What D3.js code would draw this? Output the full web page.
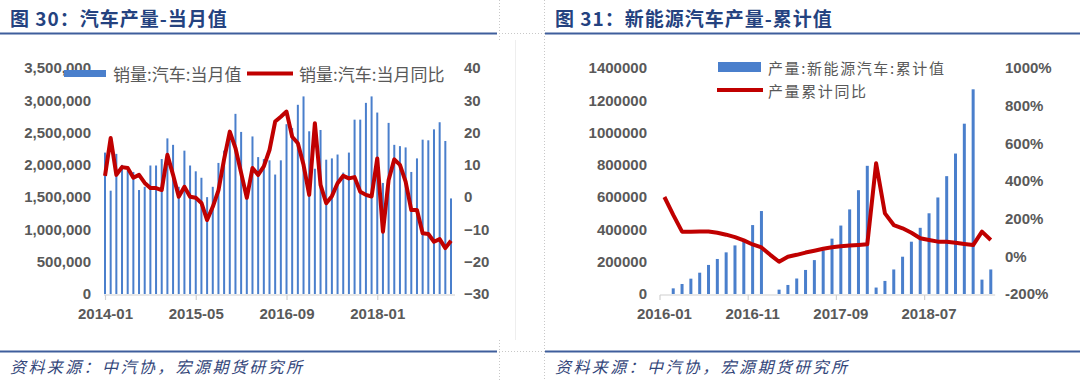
<!DOCTYPE html>
<html><head><meta charset="utf-8">
<script src="https://cdn.jsdelivr.net/npm/d3@7/dist/d3.min.js"></script>
<style>body{margin:0;background:#fff}svg{display:block}</style>
</head><body>
<svg id="c" width="1080" height="380"></svg>
<script>
// ---------- Data: figure 30 (monthly car sales & YoY) ----------
const carMonths = [
 "2014-01","2014-02","2014-03","2014-04","2014-05","2014-06","2014-07","2014-08","2014-09","2014-10","2014-11","2014-12",
 "2015-01","2015-02","2015-03","2015-04","2015-05","2015-06","2015-07","2015-08","2015-09","2015-10","2015-11","2015-12",
 "2016-01","2016-02","2016-03","2016-04","2016-05","2016-06","2016-07","2016-08","2016-09","2016-10","2016-11","2016-12",
 "2017-01","2017-02","2017-03","2017-04","2017-05","2017-06","2017-07","2017-08","2017-09","2017-10","2017-11","2017-12",
 "2018-01","2018-02","2018-03","2018-04","2018-05","2018-06","2018-07","2018-08","2018-09","2018-10","2018-11","2018-12",
 "2019-01","2019-02"];
const carSales = [
 2190000,1600000,2170000,2000000,1910000,1890000,1610000,1660000,1990000,1990000,2090000,2410000,
 2310000,1660000,2220000,1990000,1900000,1800000,1500000,1660000,2030000,2220000,2500000,2790000,
 2510000,1590000,2440000,2120000,2090000,2070000,1850000,2070000,2630000,2570000,2930000,3060000,
 2520000,1940000,2540000,2080000,2100000,2160000,1880000,2190000,2700000,2700000,2960000,3060000,
 2810000,1720000,2650000,2310000,2290000,2270000,1890000,2100000,2390000,2380000,2550000,2660000,
 2370000,1480000];
const carYoY = [
 6.6,18.3,6.9,9.3,9.0,6.0,6.9,4.4,2.8,2.8,2.2,13.1,
 6.9,0.1,3.2,0.1,-0.2,-1.8,-7.1,-3.0,2.1,11.8,20.3,15.2,
 7.5,-0.2,9.0,6.9,9.5,14.6,23.4,24.9,26.5,18.7,16.7,10.0,
 0.7,22.9,3.8,-1.9,0.3,4.3,6.6,5.8,6.2,1.7,0.7,0.2,
 12.0,-10.7,5.3,11.7,10.0,4.8,-4.0,-4.0,-11.2,-11.4,-13.8,-13.0,
 -15.8,-13.5];
const carLeftTicks = [0,500000,1000000,1500000,2000000,2500000,3000000,3500000];
const carRightTicks = [-30,-20,-10,0,10,20,30,40];
const carXTicks = ["2014-01","2015-05","2016-09","2018-01"];

// ---------- Data: figure 31 (NEV cumulative production & YoY) ----------
const nevMonths = [
 "2016-01","2016-02","2016-03","2016-04","2016-05","2016-06","2016-07","2016-08","2016-09","2016-10","2016-11","2016-12",
 "2017-01","2017-02","2017-03","2017-04","2017-05","2017-06","2017-07","2017-08","2017-09","2017-10","2017-11","2017-12",
 "2018-01","2018-02","2018-03","2018-04","2018-05","2018-06","2018-07","2018-08","2018-09","2018-10","2018-11","2018-12",
 "2019-01","2019-02"];
const nevProd = [
 null,35000,62000,95000,132000,180000,217000,258000,301000,335000,427000,514000,
 null,27000,56000,96000,149000,210000,271000,343000,424000,524000,643000,794000,
 40000,81000,152000,231000,324000,410000,500000,598000,730000,870000,1055000,1268000,
 89000,152000];
const nevYoY = [
 315,220,131,131,132,132,125,115,102,85,63,47,
 8,-29,-2,8,20,30,40,48,53,57,60,64,
 494,228,166,149,125,96,87,78,78,72,66,60,
 131,87];
const nevLeftTicks = [0,200000,400000,600000,800000,1000000,1200000,1400000];
const nevRightTicks = [-200,0,200,400,600,800,1000];
const nevXTicks = ["2016-01","2016-11","2017-09","2018-07"];

// ---------- Styles ----------
const BLUE = "#4A7FCC", RED = "#C00000", GRAY = "#595959", AXIS = "#D0D0D0";
const TITLE = "#24427F", SRC = "#33467A";
const NUMFONT = "'Liberation Sans', Arial, sans-serif";
const CJK = "'Noto Sans CJK SC', 'Noto Sans', sans-serif";

const svg = d3.select("#c");

// ---------- Frame: titles, rules, sources, separators ----------
function panelFrame(x0, x1, title) {
  svg.append("text").attr("x", x0 + 10).attr("y", 17).attr("dominant-baseline", "central")
    .attr("font-family", CJK).attr("font-weight", "bold").attr("font-size", 19)
    .attr("letter-spacing", 1).attr("fill", TITLE).text(title);
  svg.append("line").attr("x1", x0).attr("x2", x1).attr("y1", 33.5).attr("y2", 33.5)
    .attr("stroke", "#3F5E9C").attr("stroke-width", 2);
  svg.append("line").attr("x1", x0).attr("x2", x1).attr("y1", 351.5).attr("y2", 351.5)
    .attr("stroke", "#3F5E9C").attr("stroke-width", 2);
  svg.append("text").attr("x", x0 + 10).attr("y", 366).attr("dominant-baseline", "central")
    .attr("font-family", CJK).attr("font-style", "italic").attr("font-size", 16)
    .attr("letter-spacing", 2.4).attr("fill", SRC).text("资料来源：中汽协，宏源期货研究所");
}
panelFrame(0, 497, "图 30：汽车产量-当月值");
panelFrame(545, 1080, "图 31：新能源汽车产量-累计值");

// dotted cell borders
svg.append("line").attr("x1", 499.5).attr("x2", 499.5).attr("y1", 0).attr("y2", 40)
  .attr("stroke", "#C8C8C8").attr("stroke-dasharray", "1,2");
svg.append("line").attr("x1", 499.5).attr("x2", 499.5).attr("y1", 340).attr("y2", 380)
  .attr("stroke", "#C8C8C8").attr("stroke-dasharray", "1,2");
svg.append("line").attr("x1", 499).attr("x2", 545).attr("y1", 33.5).attr("y2", 33.5)
  .attr("stroke", "#C8C8C8").attr("stroke-dasharray", "1,2");
svg.append("line").attr("x1", 499).attr("x2", 545).attr("y1", 351.5).attr("y2", 351.5)
  .attr("stroke", "#C8C8C8").attr("stroke-dasharray", "1,2");
svg.append("line").attr("x1", 544.5).attr("x2", 544.5).attr("y1", 0).attr("y2", 380)
  .attr("stroke", "#C8C8C8").attr("stroke-dasharray", "1,2");
svg.append("line").attr("x1", 515.5).attr("x2", 515.5).attr("y1", 40).attr("y2", 340)
  .attr("stroke", "#EEEEEE");

function styleAxisText(g) {
  g.selectAll("text").attr("font-family", NUMFONT).attr("font-weight", "bold")
    .attr("font-size", 15).attr("fill", GRAY);
  g.select(".domain").remove();
}

// ---------- Chart 30 ----------
(function () {
  const x = d3.scalePoint().domain(carMonths).range([105, 451]);
  const y = d3.scaleLinear().domain([0, 3500000]).range([294, 68]);
  const y2 = d3.scaleLinear().domain([-30, 40]).range([294, 68]);
  const g = svg.append("g");

  g.append("g").attr("transform", "translate(91,0)")
    .call(d3.axisLeft(y).tickValues(carLeftTicks).tickFormat(d3.format(",")).tickSize(0).tickPadding(0))
    .call(styleAxisText);
  g.append("g").attr("transform", "translate(464,0)")
    .call(d3.axisRight(y2).tickValues(carRightTicks).tickFormat(d3.format("d")).tickSize(0).tickPadding(0))
    .call(styleAxisText);

  // x axis
  const xa = g.append("g").attr("transform", "translate(0,295)");
  xa.append("line").attr("x1", x.range()[0] - 1).attr("x2", x.range()[1] + 4)
    .attr("stroke", AXIS).attr("stroke-width", 1.2);
  xa.call(d3.axisBottom(x).tickValues(carXTicks).tickSizeInner(5).tickSizeOuter(0).tickPadding(8))
    .call(styleAxisText);
  xa.selectAll(".tick line").attr("stroke", AXIS).attr("stroke-width", 1.2);

  // bars
  g.append("g").selectAll("rect").data(carMonths).join("rect")
    .attr("x", (m) => x(m) - 1).attr("width", 2)
    .attr("y", (m, i) => y(carSales[i])).attr("height", (m, i) => y(0) - y(carSales[i]))
    .attr("fill", BLUE);

  // line
  g.append("path").datum(carMonths)
    .attr("d", d3.line().x((m) => x(m)).y((m, i) => y2(carYoY[i])))
    .attr("fill", "none").attr("stroke", RED).attr("stroke-width", 4)
    .attr("stroke-linejoin", "round").attr("stroke-linecap", "butt");

  // legend
  const lg = g.append("g");
  lg.append("rect").attr("x", 64).attr("y", 70).attr("width", 42).attr("height", 7).attr("fill", BLUE);
  lg.append("text").attr("x", 113).attr("y", 73.5).attr("dominant-baseline", "central")
    .attr("font-family", CJK).attr("font-size", 17).attr("fill", GRAY).text("销量:汽车:当月值");
  lg.append("line").attr("x1", 247).attr("x2", 293).attr("y1", 73.5).attr("y2", 73.5)
    .attr("stroke", RED).attr("stroke-width", 4);
  lg.append("text").attr("x", 299).attr("y", 73.5).attr("dominant-baseline", "central")
    .attr("font-family", CJK).attr("font-size", 17).attr("fill", GRAY).text("销量:汽车:当月同比");
})();

// ---------- Chart 31 ----------
(function () {
  const x = d3.scaleBand().domain(nevMonths).range([660, 995.2]).padding(0);
  const bw = x.bandwidth();
  const y = d3.scaleLinear().domain([0, 1400000]).range([294, 68]);
  const y2 = d3.scaleLinear().domain([-200, 1000]).range([294, 68]);
  const g = svg.append("g");

  g.append("g").attr("transform", "translate(647,0)")
    .call(d3.axisLeft(y).tickValues(nevLeftTicks).tickFormat(d3.format("d")).tickSize(0).tickPadding(0))
    .call(styleAxisText);
  g.append("g").attr("transform", "translate(1005,0)")
    .call(d3.axisRight(y2).tickValues(nevRightTicks).tickFormat((d) => d + "%").tickSize(0).tickPadding(0))
    .call(styleAxisText);

  // x axis
  const xa = g.append("g").attr("transform", "translate(0,295)");
  xa.append("line").attr("x1", x.range()[0]).attr("x2", x.range()[1])
    .attr("stroke", AXIS).attr("stroke-width", 1.2);
  xa.selectAll("line.tk").data(nevXTicks).join("line").attr("class", "tk")
    .attr("x1", (m) => x(m)).attr("x2", (m) => x(m)).attr("y1", 0).attr("y2", 5)
    .attr("stroke", AXIS).attr("stroke-width", 1.2);
  xa.selectAll("text").data(nevXTicks).join("text")
    .attr("x", (m) => x(m) + bw / 2).attr("y", 13).attr("dy", "0.71em").attr("text-anchor", "middle")
    .attr("font-family", NUMFONT).attr("font-weight", "bold").attr("font-size", 15).attr("fill", GRAY)
    .text((m) => m);

  // bars
  const idx = nevMonths.map((m, i) => i).filter((i) => nevProd[i] != null);
  g.append("g").selectAll("rect").data(idx).join("rect")
    .attr("x", (i) => x(nevMonths[i]) + bw / 2 - 1.5).attr("width", 3)
    .attr("y", (i) => y(nevProd[i])).attr("height", (i) => y(0) - y(nevProd[i]))
    .attr("fill", BLUE);

  // line
  g.append("path").datum(nevMonths)
    .attr("d", d3.line().x((m) => x(m) + bw / 2).y((m, i) => y2(nevYoY[i])))
    .attr("fill", "none").attr("stroke", RED).attr("stroke-width", 4)
    .attr("stroke-linejoin", "round");

  // legend
  const lg = g.append("g");
  lg.append("rect").attr("x", 718).attr("y", 62).attr("width", 43).attr("height", 10).attr("fill", BLUE);
  lg.append("text").attr("x", 768).attr("y", 67).attr("dominant-baseline", "central")
    .attr("font-family", CJK).attr("font-size", 15).attr("letter-spacing", 1.6).attr("fill", GRAY)
    .text("产量:新能源汽车:累计值");
  lg.append("line").attr("x1", 717).attr("x2", 763).attr("y1", 90).attr("y2", 90)
    .attr("stroke", RED).attr("stroke-width", 4);
  lg.append("text").attr("x", 768).attr("y", 90).attr("dominant-baseline", "central")
    .attr("font-family", CJK).attr("font-size", 15).attr("letter-spacing", 1.6).attr("fill", GRAY)
    .text("产量累计同比");
})();
</script>
</body></html>
